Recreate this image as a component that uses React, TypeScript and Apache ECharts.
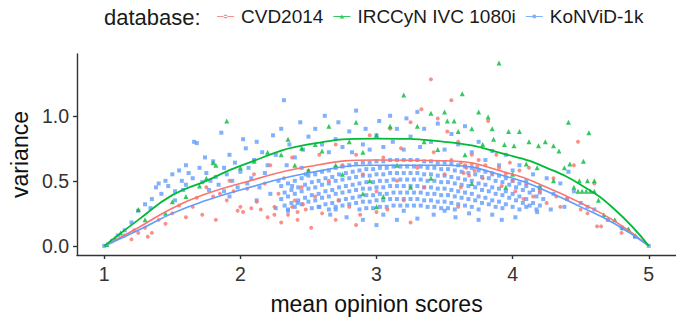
import React, { useEffect, useRef } from "react";
import * as echarts from "echarts";

const FONT = "'Liberation Sans', Arial, Helvetica, sans-serif";

const databases = ["CVD2014", "IRCCyN IVC 1080i", "KoNViD-1k"];
const dbColors = ["#F8766D", "#00BA38", "#619CFF"];

const xTicks = [1, 2, 3, 4, 5];
const yTicks = [0, 0.5, 1.0];
const yTickLabels = ["0.0", "0.5", "1.0"];

// fitted curves
const curveX = [1, 1.25, 1.5, 1.75, 2, 2.5, 3, 3.5, 4, 4.25, 4.5, 4.75, 5];
const cvdCurve = [0, 0.14, 0.29, 0.4, 0.48, 0.61, 0.66, 0.655, 0.55, 0.45, 0.33, 0.19, 0];
const irccynCurve = [0, 0.2, 0.39, 0.5, 0.615, 0.78, 0.825, 0.8, 0.69, 0.6, 0.47, 0.28, 0];
const konvidCurve = [0, 0.12, 0.25, 0.35, 0.43, 0.56, 0.62, 0.62, 0.52, 0.42, 0.3, 0.17, 0];

const cvdPoints = [
  [1.15, 0.08], [1.2, 0.05], [1.22, 0.12], [1.25, 0.1], [1.3, 0.14], [1.32, 0.07], [1.35, 0.1], [1.4, 0.2],
  [1.45, 0.17], [1.5, 0.25], [1.55, 0.31], [1.6, 0.22], [1.65, 0.3], [1.68, 0.37], [1.72, 0.24], [1.75, 0.45],
  [1.8, 0.38], [1.82, 0.2], [1.85, 0.4], [1.9, 0.35], [1.92, 0.5], [1.95, 0.42], [1.98, 0.27], [2.0, 0.3],
  [2.02, 0.26], [2.05, 0.44], [2.08, 0.29], [2.1, 0.55], [2.12, 0.34], [2.15, 0.28], [2.18, 0.48], [2.2, 0.22],
  [2.22, 0.62], [2.25, 0.3], [2.28, 0.4], [2.3, 0.18], [2.32, 0.52], [2.35, 0.24], [2.38, 0.68], [2.4, 0.35],
  [2.42, 0.2], [2.45, 0.45], [2.48, 0.28], [2.5, 0.58], [2.52, 0.14], [2.55, 0.38], [2.58, 0.7], [2.6, 0.25],
  [2.65, 0.5], [2.7, 0.78], [2.72, 0.35], [2.75, 0.62], [2.8, 0.3], [2.85, 0.7], [2.88, 0.24], [2.9, 0.55],
  [2.95, 0.85], [3.0, 0.42], [3.05, 0.68], [3.08, 0.28], [3.1, 0.9], [3.15, 0.5], [3.18, 0.75], [3.2, 0.35],
  [3.25, 0.95], [3.3, 0.6], [3.33, 1.05], [3.35, 0.45], [3.4, 1.28], [3.42, 0.72], [3.45, 0.98], [3.5, 0.55],
  [3.52, 0.88], [3.55, 0.66], [3.6, 0.8], [3.62, 0.45], [3.65, 0.62], [3.7, 0.7], [3.72, 0.58], [3.75, 0.66],
  [3.78, 0.52], [3.8, 0.62], [3.82, 0.96], [3.85, 0.56], [3.88, 0.7], [3.9, 0.6], [3.92, 0.46], [3.95, 0.55],
  [3.98, 0.64], [4.0, 0.5], [4.02, 0.42], [4.05, 0.58], [4.08, 0.36], [4.1, 0.48], [4.12, 0.6], [4.15, 0.38],
  [4.2, 0.42], [4.25, 0.33], [4.3, 0.52], [4.32, 0.38], [4.35, 0.3], [4.4, 0.36], [4.45, 0.62], [4.48, 0.8],
  [4.5, 0.28], [4.55, 0.25], [4.6, 0.48], [4.62, 0.15], [4.65, 0.15], [4.7, 0.2], [4.8, 0.1], [4.85, 0.12],
  [3.55, 1.12], [3.25, 0.18], [2.85, 0.16], [2.7, 0.2], [3.0, 0.26], [3.6, 0.3], [3.62, 0.64], [3.66, 0.6],
  [3.7, 0.63], [3.74, 0.61], [3.64, 0.56], [3.68, 0.54], [2.38, 0.3], [2.42, 0.26], [2.46, 0.32], [2.25, 0.24],
];

const irccynPoints = [
  [1.02, 0.01], [1.05, 0.04], [1.08, 0.06], [1.12, 0.1], [1.25, 0.28], [1.3, 0.2], [1.45, 0.25], [1.5, 0.34],
  [1.6, 0.38], [1.7, 0.46], [1.75, 0.52], [1.8, 0.64], [1.82, 0.62], [1.9, 0.96], [2.0, 0.6], [2.1, 0.65],
  [2.2, 0.72], [2.3, 0.7], [2.35, 0.82], [2.4, 0.62], [2.45, 0.75], [2.5, 0.58], [2.55, 0.78], [2.6, 0.73],
  [2.65, 0.92], [2.7, 0.62], [2.75, 0.55], [2.8, 0.8], [2.85, 0.95], [2.9, 0.72], [2.95, 0.5], [3.0, 0.85],
  [3.05, 0.38], [3.1, 0.92], [3.15, 0.62], [3.2, 1.16], [3.25, 0.45], [3.3, 0.92], [3.35, 0.8], [3.4, 1.02],
  [3.45, 0.74], [3.5, 1.03], [3.52, 0.96], [3.57, 0.96], [3.6, 0.88], [3.63, 1.17], [3.65, 0.7], [3.7, 0.9],
  [3.75, 1.03], [3.78, 0.78], [3.82, 0.99], [3.85, 0.9], [3.86, 0.82], [3.9, 1.406], [3.94, 0.78], [3.97, 0.88],
  [4.01, 0.77], [4.05, 0.88], [4.1, 0.63], [4.12, 0.8], [4.18, 0.6], [4.19, 0.77], [4.24, 0.8], [4.3, 0.77],
  [4.34, 0.73], [4.38, 0.6], [4.41, 0.95], [4.42, 0.63], [4.49, 0.5], [4.52, 0.65], [4.55, 0.5], [4.56, 0.87],
  [4.6, 0.5], [4.48, 0.42], [4.51, 0.42], [4.54, 0.42], [4.57, 0.42], [4.6, 0.42], [4.63, 0.35], [4.67, 0.24],
  [4.81, 0.14], [4.85, 0.13], [4.0, 0.55], [3.95, 0.45], [3.7, 0.48], [3.4, 0.52], [2.9, 0.4], [3.0, 0.3],
  [4.2, 0.45], [4.3, 0.5], [4.45, 0.45], [4.75, 0.2], [4.9, 0.08],
];

const konvidScatter = [
  [1.25, 0.27], [1.3, 0.32], [1.35, 0.36], [1.38, 0.45], [1.42, 0.4], [1.45, 0.5], [1.47, 0.46], [1.5, 0.55],
  [1.52, 0.42], [1.55, 0.58], [1.57, 0.5], [1.6, 0.47], [1.62, 0.56], [1.65, 0.52], [1.66, 0.8], [1.68, 0.79],
  [1.7, 0.6], [1.72, 0.49], [1.75, 0.56], [1.77, 0.43], [1.8, 0.65], [1.82, 0.53], [1.84, 0.47], [1.86, 0.87],
  [1.88, 0.6], [1.9, 0.55], [1.92, 0.7], [1.94, 0.5], [1.96, 0.64], [1.98, 0.45], [2.0, 0.57], [1.74, 0.68],
  [1.6, 0.62], [1.52, 0.35], [1.4, 0.48], [1.34, 0.29], [1.58, 0.43], [1.78, 0.5], [1.88, 0.42], [1.92, 0.38],
  [2.02, 0.82], [2.04, 0.75], [2.06, 0.6], [2.08, 0.52], [2.1, 0.66], [2.12, 0.8], [2.14, 0.45], [2.16, 0.72],
  [2.18, 0.56], [2.2, 0.62], [2.22, 0.4], [2.24, 0.85], [2.26, 0.7], [2.28, 0.5], [2.3, 0.9], [2.32, 1.12],
  [2.34, 0.62], [2.36, 0.78], [2.38, 0.46], [2.4, 0.68], [2.42, 0.33], [2.44, 0.95], [2.46, 0.74], [2.48, 0.55],
  [2.5, 0.84], [2.12, 0.35], [2.26, 0.29], [2.05, 0.48], [2.35, 0.27], [2.45, 0.6], [2.55, 0.9], [2.6, 0.78],
  [2.62, 1.0], [2.65, 0.72], [2.7, 0.82], [2.72, 0.95], [2.75, 0.76], [2.8, 0.88], [2.82, 0.72], [2.85, 1.04],
  [2.9, 0.78], [2.92, 0.9], [2.95, 0.74], [3.0, 0.85], [3.02, 0.96], [3.05, 0.76], [3.1, 1.0], [3.12, 0.8],
  [3.15, 0.9], [3.2, 0.74], [3.22, 0.98], [3.25, 0.84], [3.3, 1.03], [3.32, 0.76], [2.66, 0.24], [2.78, 0.22],
  [2.9, 0.2], [3.0, 0.16], [3.05, 0.24], [3.15, 0.2], [3.2, 0.27], [2.58, 0.3], [2.7, 0.28], [3.35, 0.9],
  [3.4, 0.8], [3.45, 0.94], [3.5, 0.74], [3.55, 0.86], [3.6, 0.78], [3.65, 0.92], [3.7, 0.72], [3.75, 0.8],
  [3.8, 0.66], [3.85, 0.73], [3.9, 0.62], [3.95, 0.7], [4.0, 0.58], [4.05, 0.62], [4.1, 0.5], [4.15, 0.55],
  [4.2, 0.45], [4.25, 0.52], [4.3, 0.4], [4.35, 0.48], [4.4, 0.36], [4.45, 0.42], [4.38, 0.3], [4.28, 0.28],
  [4.18, 0.26], [4.1, 0.3], [4.02, 0.22], [3.92, 0.2], [3.85, 0.24], [3.75, 0.2], [3.68, 0.25], [3.58, 0.22],
  [3.5, 0.27], [3.42, 0.24], [3.3, 0.21], [4.5, 0.33], [4.55, 0.3], [4.6, 0.28], [4.7, 0.2], [4.8, 0.14],
  [4.9, 0.07], [5.0, 0.0], [1.0, 0.0], [1.1, 0.08], [1.15, 0.12], [1.2, 0.18], [4.41, 0.57],
];

// dense KoNViD-1k arcs: x positions and the variance of each arc at them
const konvidArcXA = [2.3, 2.35, 2.4, 2.45, 2.5, 2.55, 2.6, 2.65, 2.7, 2.75, 2.8, 2.85, 2.9, 2.95, 3.0, 3.05, 3.1, 3.15, 3.2, 3.25, 3.3, 3.35, 3.4, 3.45, 3.5, 3.55, 3.6, 3.65, 3.7, 3.75, 3.8, 3.85, 3.9, 3.95, 4.0, 4.05, 4.1, 4.15, 4.2];
const konvidArcXB = [2.325, 2.375, 2.425, 2.475, 2.525, 2.575, 2.625, 2.675, 2.725, 2.775, 2.825, 2.875, 2.925, 2.975, 3.025, 3.075, 3.125, 3.175, 3.225, 3.275, 3.325, 3.375, 3.425, 3.475, 3.525, 3.575, 3.625, 3.675, 3.725, 3.775, 3.825, 3.875, 3.925, 3.975, 4.025, 4.075, 4.125, 4.175, 4.225];
const konvidArc1 = [.46, .48, .50, .52, .54, .55, .57, .58, .60, .61, .62, .63, .64, .64, .65, .65, .66, .66, .66, .66, .66, .65, .65, .64, .64, .63, .62, .61, .60, .58, .57, .55, .54, .52, .50, .48, .46, .43, .41];
const konvidArc2 = [.41, .43, .45, .47, .49, .50, .52, .53, .55, .56, .57, .58, .59, .59, .60, .60, .61, .61, .61, .61, .61, .60, .60, .59, .59, .58, .57, .56, .55, .53, .52, .50, .49, .47, .45, .43, .41, .38, .36];
const konvidArc3 = [.36, .38, .40, .42, .44, .45, .47, .48, .50, .51, .52, .53, .54, .54, .55, .55, .56, .56, .56, .56, .56, .55, .55, .54, .54, .53, .52, .51, .50, .48, .47, .45, .44, .42, .40, .38, .36, .33, .31];
const konvidArc4 = [.31, .33, .35, .37, .39, .40, .42, .43, .45, .46, .47, .48, .49, .49, .50, .50, .51, .51, .51, .51, .51, .50, .50, .49, .49, .48, .47, .46, .45, .43, .42, .40, .39, .37, .35, .33, .31, .28, null];
const konvidArc5 = [null, .28, .30, .32, .34, .35, .37, .38, .40, .41, .42, .43, .44, .44, .45, .45, .46, .46, .46, .46, .46, .45, .45, .44, .44, .43, .42, .41, .40, .38, .37, .35, .34, .32, .30, .28, null, null, null];
const konvidArc6 = [null, null, null, null, .29, .30, .32, .33, .35, .36, .37, .38, .39, .39, .40, .40, .41, .41, .41, .41, .41, .40, .40, .39, .39, .38, .37, .36, .35, .33, .32, .30, .29, null, null, null, null, null, null];
const konvidArc7 = [null, null, null, null, null, null, null, .28, .30, .31, .32, .33, .34, .34, .35, .35, .36, .36, .36, .36, .36, .35, .35, .34, .34, .33, .32, .31, .30, .28, null, null, null, null, null, null, null, null, null];
const konvidArc8 = [null, null, null, null, null, null, null, null, null, null, null, .28, .29, .29, .30, .30, .31, .31, .31, .31, .31, .30, .30, .29, .29, .28, null, null, null, null, null, null, null, null, null, null, null, null, null];

function zipArc(xs: number[], ys: (number | null)[]) {
  const out: number[][] = [];
  ys.forEach((y, i) => {
    if (y !== null) out.push([xs[i], y]);
  });
  return out;
}

const legendIcons = [
  "path://M0,4.5H17V5.5H0Z M6.5,5A2,2 0 1 0 10.5,5A2,2 0 1 0 6.5,5Z",
  "path://M0,4.5H17V5.5H0Z M8.5,3L10.8,7H6.2Z",
  "path://M0,4.5H17V5.5H0Z M6.8,3.3H10.2V6.7H6.8Z M8.5,3V7Z",
];

export default function App() {
  const ref = useRef<HTMLDivElement>(null);

  useEffect(() => {
    if (!ref.current) return;
    const chart = echarts.init(ref.current, undefined, { renderer: "svg" });

    const konvidAll = [
      ...konvidScatter,
      ...zipArc(konvidArcXA, konvidArc1),
      ...zipArc(konvidArcXB, konvidArc2),
      ...zipArc(konvidArcXA, konvidArc3),
      ...zipArc(konvidArcXB, konvidArc4),
      ...zipArc(konvidArcXA, konvidArc5),
      ...zipArc(konvidArcXB, konvidArc6),
      ...zipArc(konvidArcXA, konvidArc7),
      ...zipArc(konvidArcXB, konvidArc8),
    ];

    const curve = (ys: number[]) => curveX.map((x, i) => [x, ys[i]]);

    const axisLineStyle = { color: "#333", width: 1.4 };

    chart.setOption({
      animation: false,
      backgroundColor: "#fff",
      textStyle: { fontFamily: FONT },
      grid: { left: 70, right: 0, top: 54, bottom: 59, containLabel: false },
      legend: {
        left: 217,
        top: 7,
        padding: 0,
        itemWidth: 17,
        itemHeight: 4,
        itemGap: 10,
        textStyle: { fontSize: 19, color: "#1a1a1a", fontFamily: FONT, padding: [0, 0, 0, 2] },
        data: databases.map((name, i) => ({ name, icon: legendIcons[i] })),
      },
      graphic: [
        {
          type: "text",
          x: 104,
          y: 17,
          style: {
            text: "database:",
            fontSize: 22,
            fontFamily: FONT,
            fill: "#1a1a1a",
            verticalAlign: "middle",
          },
        },
      ],
      xAxis: {
        type: "value",
        min: 0.8,
        max: 5.2,
        name: "mean opinion scores",
        nameLocation: "middle",
        nameGap: 37,
        nameTextStyle: { fontSize: 23, color: "#111", fontFamily: FONT },
        axisLine: { show: true, onZero: false, lineStyle: axisLineStyle },
        axisTick: { show: true, length: 4, customValues: xTicks, lineStyle: axisLineStyle },
        axisLabel: { customValues: xTicks, fontSize: 19.5, color: "#333", margin: 9, fontFamily: FONT },
        splitLine: { show: false },
      },
      yAxis: {
        type: "value",
        min: -0.07,
        max: 1.475,
        name: "variance",
        nameLocation: "middle",
        nameGap: 46,
        nameRotate: 90,
        nameTextStyle: { fontSize: 23, color: "#111", fontFamily: FONT },
        axisLine: { show: true, onZero: false, lineStyle: axisLineStyle },
        axisTick: { show: true, length: 4, customValues: yTicks, lineStyle: axisLineStyle },
        axisLabel: {
          customValues: yTicks,
          fontSize: 19.5,
          color: "#333",
          margin: 8,
          fontFamily: FONT,
          formatter: (v: number) => yTickLabels[yTicks.indexOf(v)] ?? v.toFixed(1),
        },
        splitLine: { show: false },
      },
      series: [
        {
          name: databases[2],
          type: "scatter",
          symbol: "rect",
          symbolSize: 4,
          itemStyle: { color: dbColors[2] },
          data: konvidAll,
          z: 2,
        },
        {
          name: databases[0],
          type: "scatter",
          symbol: "circle",
          symbolSize: 4,
          itemStyle: { color: dbColors[0] },
          data: cvdPoints,
          z: 3,
        },
        {
          name: databases[1],
          type: "scatter",
          symbol: "triangle",
          symbolSize: 5,
          itemStyle: { color: dbColors[1] },
          data: irccynPoints,
          z: 4,
        },
        {
          name: databases[0],
          type: "line",
          smooth: true,
          symbol: "none",
          lineStyle: { color: dbColors[0], width: 1.6 },
          itemStyle: { color: dbColors[0] },
          data: curve(cvdCurve),
          z: 5,
        },
        {
          name: databases[2],
          type: "line",
          smooth: true,
          symbol: "none",
          lineStyle: { color: dbColors[2], width: 1.6 },
          itemStyle: { color: dbColors[2] },
          data: curve(konvidCurve),
          z: 5,
        },
        {
          name: databases[1],
          type: "line",
          smooth: true,
          symbol: "none",
          lineStyle: { color: dbColors[1], width: 1.8 },
          itemStyle: { color: dbColors[1] },
          data: curve(irccynCurve),
          z: 6,
        },
      ],
    });

    return () => chart.dispose();
  }, []);

  return (
    <div
      ref={ref}
      style={{ position: "fixed", left: 0, top: 0, width: 676, height: 320, background: "#fff" }}
    />
  );
}
